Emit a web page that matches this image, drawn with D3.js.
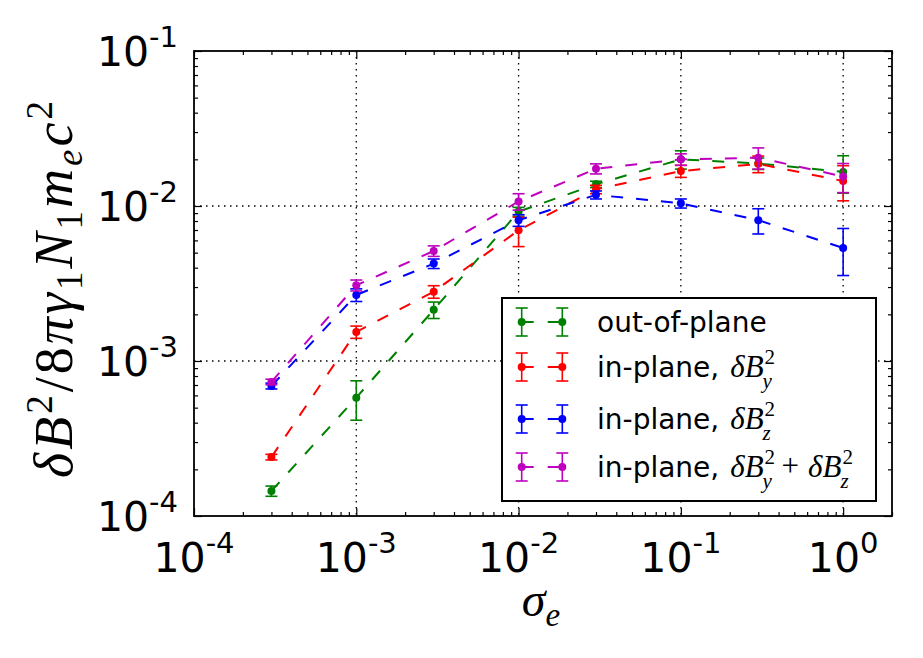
<!DOCTYPE html>
<html>
<head>
<meta charset="utf-8">
<script src="https://cdn.jsdelivr.net/npm/d3@7"></script>
<style>
  body { margin: 0; background: #fff; }
  text { font-family: "DejaVu Sans", sans-serif; fill: #000; }
  .math { font-family: "Liberation Serif", "DejaVu Serif", serif; font-style: italic; }
  .up { font-style: normal; }
</style>
</head>
<body>
<svg id="chart" width="923" height="658"></svg>
<script>
// ---- data ----
const sigma = [3e-4, 1e-3, 3e-3, 1e-2, 3e-2, 1e-1, 3e-1, 1];

const outPlane    = [1.45e-4, 5.8e-4, 2.14e-3, 9.2e-3, 1.38e-2, 2.0e-2, 1.88e-2, 1.66e-2];
const outPlaneErr = [0.11e-4, 1.65e-4, 0.26e-3, 0.6e-3, 0.65e-3, 2.7e-3, 1.6e-3, 4.5e-3];

const inY    = [2.4e-4, 1.54e-3, 2.8e-3, 6.97e-3, 1.28e-2, 1.68e-2, 1.87e-2, 1.45e-2];
const inYErr = [0.1e-4, 0.14e-3, 0.26e-3, 1.5e-3, 0.8e-3, 1.5e-3, 2.3e-3, 3.7e-3];

const inZ    = [6.9e-4, 2.67e-3, 4.25e-3, 8.09e-3, 1.18e-2, 1.04e-2, 8.1e-3, 5.36e-3];
const inZErr = [0.3e-4, 0.25e-3, 0.3e-3, 0.7e-3, 0.7e-3, 0.7e-3, 1.5e-3, 1.8e-3];

const inYZ    = [7.33e-4, 3.08e-3, 5.13e-3, 1.07e-2, 1.74e-2, 2.0e-2, 2.05e-2, 1.55e-2];
const inYZErr = [0.3e-4, 0.25e-3, 0.4e-3, 1.3e-3, 1.3e-3, 1.7e-3, 3.2e-3, 3.3e-3];

const xTickExp = [-4, -3, -2, -1, 0];
const yTickExp = [-4, -3, -2, -1];

const series = [
  { name: "out-of-plane", color: "#008000", vals: outPlane, err: outPlaneErr, math: null },
  { name: "in-plane,",    color: "#ff0000", vals: inY,      err: inYErr,      math: "y" },
  { name: "in-plane,",    color: "#0000ff", vals: inZ,      err: inZErr,      math: "z" },
  { name: "in-plane,",    color: "#bf00bf", vals: inYZ,     err: inYZErr,     math: "yz" }
];

// ---- layout ----
const pl = 194, pt = 51, pr = 892, pb = 516;
const W = pr - pl, H = pb - pt;

const svg = d3.select("#chart");

const x = d3.scaleLog().domain([1e-4, 2]).range([pl, pr]);
const y = d3.scaleLog().domain([1e-4, 1e-1]).range([pb, pt]);

const isMajor = v => Math.abs(Math.log10(v) - Math.round(Math.log10(v))) < 1e-9;
const xMajor = xTickExp.map(e => Math.pow(10, e));
const yMajor = yTickExp.map(e => Math.pow(10, e));
const xMinor = x.ticks().filter(v => !isMajor(v));
const yMinor = y.ticks().filter(v => !isMajor(v));

// grid (dotted, at major ticks)
const grid = svg.append("g").attr("stroke", "#000").attr("stroke-width", 1.3)
  .attr("stroke-dasharray", "1.5,4.5");
grid.selectAll("line.gx").data(xMajor.filter(v => v > 1e-4)).enter().append("line")
  .attr("x1", d => x(d)).attr("x2", d => x(d)).attr("y1", pt).attr("y2", pb);
grid.selectAll("line.gy").data(yMajor.filter(v => v > 1e-4 && v < 1e-1)).enter().append("line")
  .attr("y1", d => y(d)).attr("y2", d => y(d)).attr("x1", pl).attr("x2", pr);

// ticks on all four sides, pointing inward
function ticks(axisFn, scale, vals, size, transform) {
  svg.append("g").attr("transform", transform)
    .call(axisFn(scale).tickValues(vals).tickSize(size).tickFormat(""))
    .call(g => g.select(".domain").remove())
    .selectAll("line").attr("stroke", "#000").attr("stroke-width", 1.2);
}
ticks(d3.axisBottom, x, xMajor, -8, `translate(0,${pb})`);
ticks(d3.axisBottom, x, xMinor, -4, `translate(0,${pb})`);
ticks(d3.axisTop, x, xMajor, -8, `translate(0,${pt})`);
ticks(d3.axisTop, x, xMinor, -4, `translate(0,${pt})`);
ticks(d3.axisLeft, y, yMajor, -8, `translate(${pl},0)`);
ticks(d3.axisLeft, y, yMinor, -4, `translate(${pl},0)`);
ticks(d3.axisRight, y, yMajor, -8, `translate(${pr},0)`);
ticks(d3.axisRight, y, yMinor, -4, `translate(${pr},0)`);

// tick labels 10^n
function powLabel(sel, e) {
  sel.append("tspan").attr("font-size", 41).text("10");
  sel.append("tspan").attr("font-size", 29).attr("dy", -19).text(e < 0 ? "-" + (-e) : String(e));
}
xTickExp.forEach(e => {
  const t = svg.append("text").attr("x", x(Math.pow(10, e))).attr("y", 572)
    .attr("text-anchor", "middle");
  powLabel(t, e);
});
yTickExp.forEach(e => {
  const t = svg.append("text").attr("x", 178).attr("y", y(Math.pow(10, e)) + 14.5)
    .attr("text-anchor", "end");
  powLabel(t, e);
});

// ---- series ----
const line = d3.line().x(d => x(d.s)).y(d => y(d.v));
series.forEach(sr => {
  const pts = sigma.map((s, i) => ({ s, v: sr.vals[i], e: sr.err[i] }));
  const g = svg.append("g");
  g.append("path").datum(pts).attr("d", line).attr("fill", "none")
    .attr("stroke", sr.color).attr("stroke-width", 2).attr("stroke-dasharray", "12,13");
  const eb = g.selectAll("g.eb").data(pts).enter().append("g")
    .attr("stroke", sr.color).attr("stroke-width", 1.6);
  eb.append("line").attr("x1", d => x(d.s)).attr("x2", d => x(d.s))
    .attr("y1", d => y(d.v - d.e)).attr("y2", d => y(d.v + d.e));
  eb.append("line").attr("x1", d => x(d.s) - 6).attr("x2", d => x(d.s) + 6)
    .attr("y1", d => y(d.v - d.e)).attr("y2", d => y(d.v - d.e));
  eb.append("line").attr("x1", d => x(d.s) - 6).attr("x2", d => x(d.s) + 6)
    .attr("y1", d => y(d.v + d.e)).attr("y2", d => y(d.v + d.e));
  g.selectAll("circle").data(pts).enter().append("circle")
    .attr("cx", d => x(d.s)).attr("cy", d => y(d.v)).attr("r", 4).attr("fill", sr.color);
});

// frame
svg.append("rect").attr("x", pl).attr("y", pt).attr("width", W).attr("height", H)
  .attr("fill", "none").attr("stroke", "#000").attr("stroke-width", 1.8);

// ---- legend ----
const lg = svg.append("g");
lg.append("rect").attr("x", 502).attr("y", 298).attr("width", 374).attr("height", 203)
  .attr("fill", "#fff").attr("stroke", "#000").attr("stroke-width", 2);
const rowY = [322, 367, 419, 467];

// δB with stacked superscript 2 and subscript; sup and sub as separate texts
function dB(g, x0, base, sub) {
  const t = g.append("text").attr("class", "math").attr("x", x0).attr("y", base)
    .attr("font-size", 31).text("δB");
  const w = t.node().getComputedTextLength();
  g.append("text").attr("class", "math up").attr("x", x0 + w + 1).attr("y", base - 13)
    .attr("font-size", 21).text("2");
  g.append("text").attr("class", "math").attr("x", x0 + w - 1).attr("y", base + 11)
    .attr("font-size", 21).text(sub);
  return x0 + w + 12;
}

series.forEach((sr, i) => {
  const cy = rowY[i];
  const h = lg.append("g").attr("stroke", sr.color);
  h.append("line").attr("x1", 521.7).attr("x2", 562.3).attr("y1", cy).attr("y2", cy)
    .attr("stroke-width", 2).attr("stroke-dasharray", "12,14");
  [521.7, 562.3].forEach(cx => {
    h.append("line").attr("x1", cx).attr("x2", cx).attr("y1", cy - 14).attr("y2", cy + 14).attr("stroke-width", 1.6);
    h.append("line").attr("x1", cx - 6).attr("x2", cx + 6).attr("y1", cy - 14).attr("y2", cy - 14).attr("stroke-width", 1.6);
    h.append("line").attr("x1", cx - 6).attr("x2", cx + 6).attr("y1", cy + 14).attr("y2", cy + 14).attr("stroke-width", 1.6);
    h.append("circle").attr("cx", cx).attr("cy", cy).attr("r", 4).attr("fill", sr.color).attr("stroke", "none");
  });
  const base = cy + 10;
  const t = lg.append("text").attr("x", 597).attr("y", base).attr("font-size", 28).text(sr.name);
  if (!sr.math) return;
  const x0 = 597 + t.node().getComputedTextLength() + 11;
  if (sr.math === "y" || sr.math === "z") dB(lg, x0, base, sr.math);
  if (sr.math === "yz") {
    const x1 = dB(lg, x0, base, "y");
    const plus = lg.append("text").attr("class", "math up").attr("x", x1 + 6).attr("y", base - 1)
      .attr("font-size", 31).text("+");
    dB(lg, x1 + 6 + plus.node().getComputedTextLength() + 9, base, "z");
  }
});

// ---- axis labels ----
const xl = svg.append("text").attr("class", "math").attr("x", 541).attr("y", 616)
  .attr("text-anchor", "middle").attr("font-size", 48);
xl.append("tspan").text("σ");
xl.append("tspan").attr("font-size", 33).attr("dy", 10).text("e");

const yl = svg.append("text").attr("class", "math")
  .attr("transform", "translate(72,288) rotate(-90)")
  .attr("text-anchor", "middle").attr("font-size", 54).attr("letter-spacing", 3);
yl.append("tspan").text("δB");
yl.append("tspan").attr("class", "up").attr("font-size", 37).attr("dy", -20).text("2");
yl.append("tspan").attr("class", "up").attr("dy", 20).text("/8");
yl.append("tspan").text("πγ");
yl.append("tspan").attr("class", "up").attr("font-size", 37).attr("dy", 10).text("1");
yl.append("tspan").attr("dy", -10).text("N");
yl.append("tspan").attr("class", "up").attr("font-size", 37).attr("dy", 10).text("1");
yl.append("tspan").attr("dy", -10).text("m");
yl.append("tspan").attr("font-size", 37).attr("dy", 10).text("e");
yl.append("tspan").attr("dy", -10).text("c");
yl.append("tspan").attr("class", "up").attr("font-size", 37).attr("dy", -20).text("2");
</script>
</body>
</html>
